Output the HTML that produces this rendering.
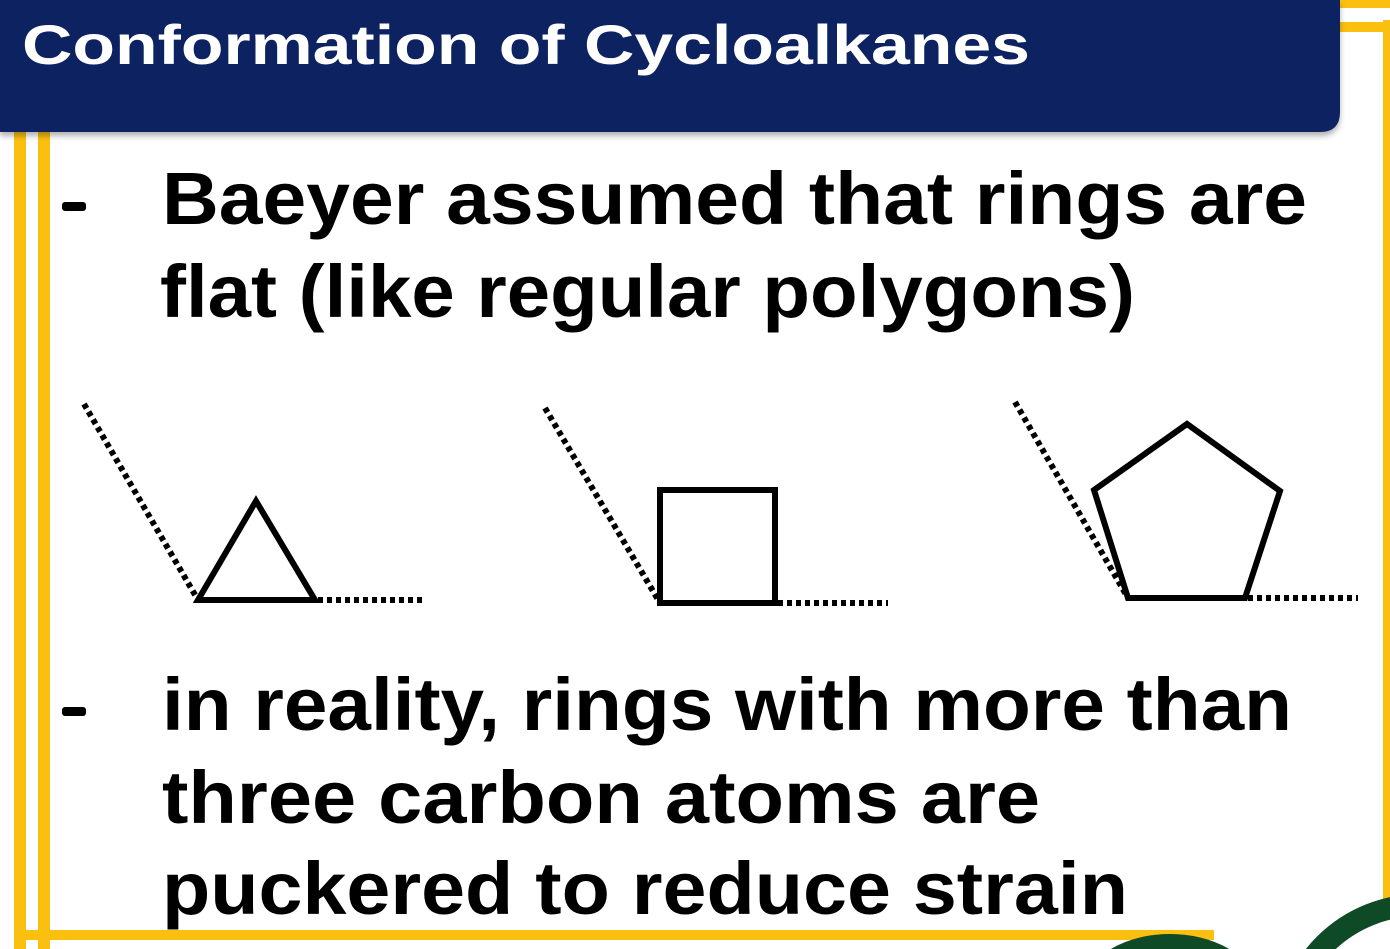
<!DOCTYPE html>
<html><head><style>
html,body{margin:0;padding:0;background:#fff;width:1390px;height:949px;overflow:hidden;}
svg{display:block;}
</style></head><body>
<svg width="1390" height="949" viewBox="0 0 1390 949" xmlns="http://www.w3.org/2000/svg">
<defs>
<filter id="sh" x="-5%" y="-5%" width="110%" height="120%"><feDropShadow dx="0" dy="4" stdDeviation="3" flood-color="#000" flood-opacity="0.3"/></filter>
</defs>
<rect width="1390" height="949" fill="#fff"/>
<g fill="#fbbf0f">
<rect x="14" y="120" width="12" height="829"/>
<rect x="38" y="120" width="12" height="829"/>
<rect x="14" y="930" width="1200" height="10"/>
<rect x="1383" y="20" width="7" height="900"/>
<rect x="1330" y="22" width="60" height="10"/>
<rect x="1330" y="0" width="60" height="8"/>
</g>
<g fill="none" stroke="#0f4a26" stroke-width="22">
<circle cx="1420" cy="1040" r="135"/>
<ellipse cx="1170" cy="990" rx="75" ry="45"/>
</g>
<path d="M0 0 H1340 V112 Q1340 132 1320 132 H0 Z" fill="#0a2060" filter="url(#sh)"/>
<text x="22" y="64" font-family="Liberation Sans, sans-serif" font-weight="bold" font-size="56" fill="#fff" textLength="1008" lengthAdjust="spacingAndGlyphs">Conformation of Cycloalkanes</text>
<g font-family="Liberation Sans, sans-serif" font-weight="bold" font-size="74" fill="#000">
<rect x="62" y="202" width="24" height="9" rx="3"/>
<text x="162" y="224" textLength="1145" lengthAdjust="spacingAndGlyphs">Baeyer assumed that rings are</text>
<text x="160" y="317" textLength="975" lengthAdjust="spacingAndGlyphs">flat (like regular polygons)</text>
<rect x="62" y="707" width="24" height="9" rx="3"/>
<text x="162" y="730" textLength="1130" lengthAdjust="spacingAndGlyphs">in reality, rings with more than</text>
<text x="162" y="823" textLength="878" lengthAdjust="spacingAndGlyphs">three carbon atoms are</text>
<text x="162" y="914" textLength="966" lengthAdjust="spacingAndGlyphs">puckered to reduce strain</text>
</g>
<g fill="none" stroke="#000" stroke-width="6" stroke-linejoin="miter">
<polygon points="198,600 256,501 315,600"/>
<rect x="660" y="490" width="115" height="113"/>
<polygon points="1128,598 1094,490 1187,424 1280,491 1245,598"/>
</g>
<g fill="none" stroke="#000" stroke-width="6" stroke-dasharray="5,4">
<line x1="84" y1="404" x2="198" y2="600"/>
<line x1="318" y1="600" x2="426" y2="600"/>
<line x1="545" y1="408" x2="660" y2="603"/>
<line x1="778" y1="603" x2="888" y2="603"/>
<line x1="1015" y1="402" x2="1128" y2="598"/>
<line x1="1248" y1="598" x2="1358" y2="598"/>
</g>
</svg>
</body></html>
